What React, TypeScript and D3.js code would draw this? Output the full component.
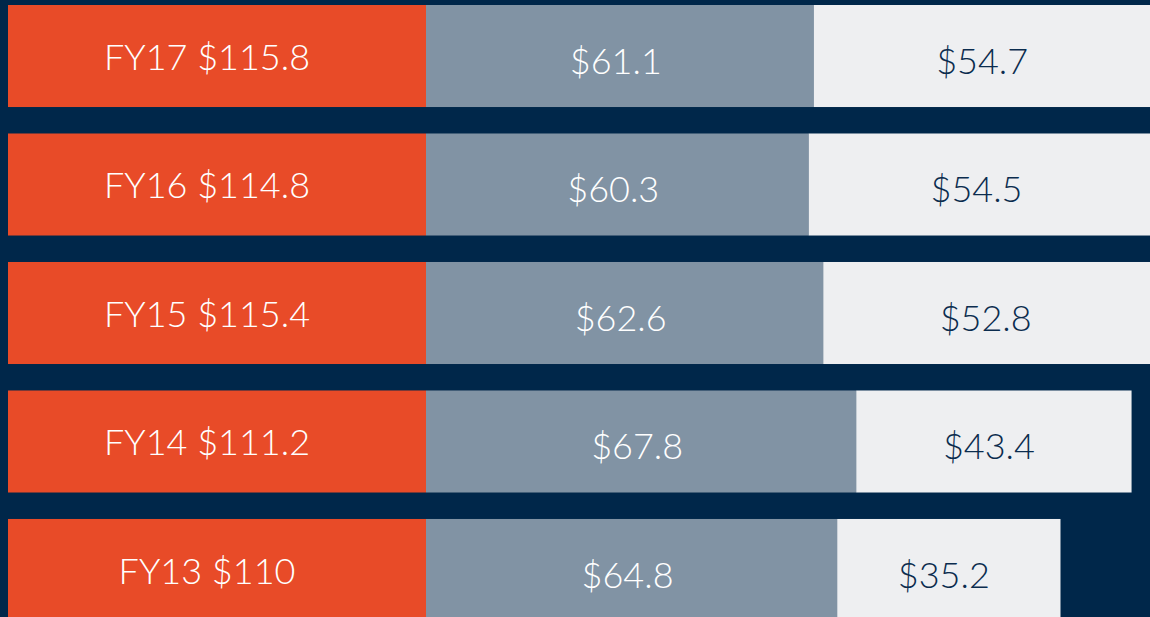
import React from "react";
import * as d3 from "d3";

const years = ["FY17", "FY16", "FY15", "FY14", "FY13"];
const totals = ["$115.8", "$114.8", "$115.4", "$111.2", "$110"];
const greyValues = [61.1, 60.3, 62.6, 67.8, 64.8];
const lightValues = [54.7, 54.5, 52.8, 43.4, 35.2];

const W = 1150;
const H = 617;
const NAVY = "#00274A";
const ORANGE = "#E84B28";
const GREY = "#8193A4";
const LIGHT = "#EEEFF1";
const FONT = "Lato, 'Open Sans', sans-serif";

export default function App() {
  const y = d3.scaleBand<string>().domain(years).range([5, 621]).paddingInner(0.206).paddingOuter(0);
  const x = d3.scaleLinear().domain([0, 100]).range([426, 426 + 634.5]);
  const bw = y.bandwidth();
  return (
    <svg width={W} height={H} style={{ position: "fixed", left: 0, top: 0, display: "block" }}>
      <rect x={0} y={0} width={W} height={H} fill={NAVY} />
      {years.map((yr, i) => {
        const y0 = y(yr) as number;
        const g = greyValues[i];
        const l = lightValues[i];
        const xg0 = x(0);
        const xg1 = x(g);
        const xl1 = x(g + l);
        return (
          <g key={yr}>
            <rect x={8} y={y0} width={xg0 - 8} height={bw} fill={ORANGE} />
            <rect x={xg0} y={y0} width={xg1 - xg0} height={bw} fill={GREY} />
            <rect x={xg1} y={y0} width={xl1 - xg1} height={bw} fill={LIGHT} />
            <text x={207} y={y0 + bw / 2 + 1} dy="0.35em" textAnchor="middle" fill="#FFFFFF"
              fontFamily={FONT} fontWeight={300} fontSize={36}>{`${yr} ${totals[i]}`}</text>
            <text x={(xg0 + xg1) / 2 - 4} y={y0 + bw / 2 + 5} dy="0.35em" textAnchor="middle" fill="#FFFFFF"
              fontFamily={FONT} fontWeight={300} fontSize={36}>{`$${g.toFixed(1)}`}</text>
            <text x={(xg1 + xl1) / 2 - 5} y={y0 + bw / 2 + 5} dy="0.35em" textAnchor="middle" fill="#0B2C4E"
              fontFamily={FONT} fontWeight={300} fontSize={36}>{`$${l.toFixed(1)}`}</text>
          </g>
        );
      })}
    </svg>
  );
}
